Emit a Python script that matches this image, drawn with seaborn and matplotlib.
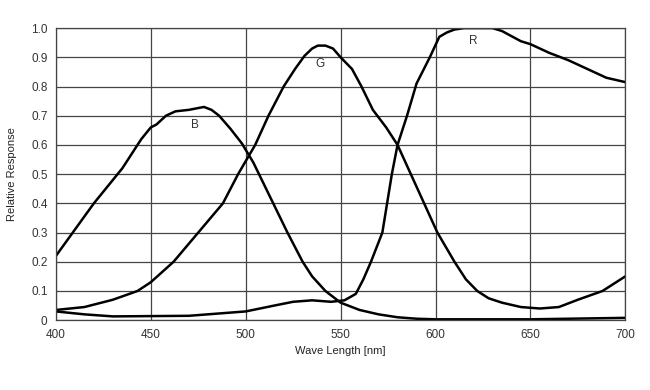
import matplotlib
matplotlib.use("Agg")
import matplotlib.pyplot as plt
import seaborn as sns
import pandas as pd

sns.set_style("white")
plt.rcParams['font.family'] = ['Liberation Sans', 'DejaVu Sans']

# Blue channel
b_wl = [400, 410, 420, 435, 445, 450, 453, 458, 463, 470, 478, 482, 486, 492, 498, 504, 510, 516, 522, 530, 535, 542, 550, 560, 570, 580, 590, 600, 650, 700]
b_val = [0.22, 0.31, 0.40, 0.52, 0.62, 0.66, 0.67, 0.70, 0.715, 0.72, 0.73, 0.72, 0.70, 0.655, 0.605, 0.54, 0.46, 0.38, 0.30, 0.20, 0.15, 0.10, 0.06, 0.035, 0.02, 0.01, 0.005, 0.003, 0.003, 0.008]

# Green channel
g_wl = [400, 415, 430, 443, 450, 462, 475, 488, 496, 505, 512, 520, 526, 531, 535, 538, 542, 546, 550, 556, 561, 567, 574, 580, 587, 594, 601, 610, 616, 622, 628, 635, 645, 655, 665, 675, 688, 700]
g_val = [0.035, 0.045, 0.07, 0.10, 0.13, 0.20, 0.30, 0.40, 0.50, 0.60, 0.70, 0.80, 0.86, 0.905, 0.93, 0.94, 0.94, 0.93, 0.90, 0.86, 0.80, 0.72, 0.66, 0.60, 0.50, 0.40, 0.30, 0.20, 0.14, 0.10, 0.075, 0.06, 0.045, 0.04, 0.045, 0.07, 0.10, 0.15]

# Red channel
r_wl = [400, 415, 430, 470, 500, 515, 525, 535, 545, 552, 558, 562, 566, 572, 577, 580, 585, 590, 597, 602, 606, 610, 615, 630, 635, 645, 650, 660, 670, 680, 690, 700]
r_val = [0.03, 0.02, 0.013, 0.015, 0.03, 0.05, 0.063, 0.068, 0.063, 0.068, 0.09, 0.14, 0.20, 0.30, 0.50, 0.60, 0.70, 0.81, 0.90, 0.97, 0.985, 0.995, 1.0, 1.0, 0.99, 0.955, 0.945, 0.915, 0.89, 0.86, 0.83, 0.815]

labels = ["B", "G", "R"]
label_x = [473, 539, 620]
label_y = [0.668, 0.877, 0.955]

x_ticks = [400, 450, 500, 550, 600, 650, 700]
y_ticks = [0, 0.1, 0.2, 0.3, 0.4, 0.5, 0.6, 0.7, 0.8, 0.9, 1.0]
y_tick_labels = ["0", "0.1", "0.2", "0.3", "0.4", "0.5", "0.6", "0.7", "0.8", "0.9", "1.0"]

fig = plt.figure(figsize=(6.5, 3.9), dpi=100)
ax = fig.add_axes([0.086, 0.179, 0.876, 0.749])

for wl, val in [(b_wl, b_val), (g_wl, g_val), (r_wl, r_val)]:
    df = pd.DataFrame({"wl": wl, "val": val})
    sns.lineplot(data=df, x="wl", y="val", ax=ax, color="black", linewidth=1.8)

for t, x, y in zip(labels, label_x, label_y):
    ax.text(x, y, t, fontsize=8.5, color="#333333", ha="center", va="center")

ax.set_xlim(400, 700)
ax.set_ylim(0, 1.0)
ax.set_xticks(x_ticks)
ax.set_yticks(y_ticks)
ax.set_yticklabels(y_tick_labels)
ax.tick_params(axis="both", length=0, labelsize=8.5, labelcolor="#333333", pad=6)
ax.grid(True, color="#444444", linewidth=0.9)
for s in ax.spines.values():
    s.set_color("#444444")
    s.set_linewidth(0.9)
ax.set_xlabel("Wave Length [nm]", fontsize=8, color="#222222", labelpad=4)
ax.set_ylabel("Relative Response", fontsize=8, color="#222222", labelpad=10)

fig.savefig("out.png", dpi=100)
